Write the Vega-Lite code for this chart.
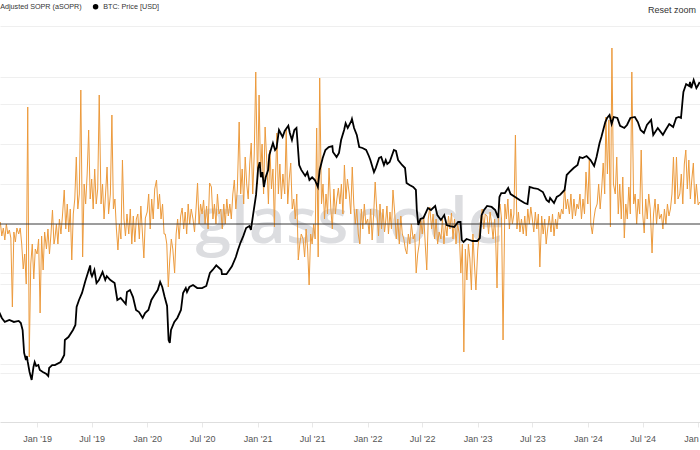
{
"$schema": "https://vega.github.io/schema/vega-lite/v6.json",
"width": 700, "height": 396,
"autosize": {"type": "none"},
"padding": {"top": 26, "left": 0, "right": 0, "bottom": 28},
"background": "white",
"config": {"view": {"stroke": null}, "font": "Liberation Sans",
 "axisX": {"format": "%b '%y", "formatType": "utc", "grid": false, "domainColor": "#dedede", "tickColor": "#e8e8e8", "tickSize": 5, "labelPadding": 7, "labelFontSize": 9, "labelColor": "#555555", "labelFont": "Liberation Sans", "labelFlush": false, "labelOverlap": false}},
"title": {"text": "Reset zoom", "anchor": "end", "frame": "group", "fontSize": 9, "fontWeight": "normal", "color": "#333333", "offset": -12, "dx": -4},
"datasets": {
"asopr": [
{"date":"2018-09-01","v":1.001},{"date":"2018-09-06","v":0.994},{"date":"2018-09-11","v":0.998},{"date":"2018-09-16","v":0.992},{"date":"2018-09-21","v":1.000},{"date":"2018-09-26","v":0.995},
{"date":"2018-10-01","v":0.997},{"date":"2018-10-06","v":0.993},{"date":"2018-10-11","v":0.9585},{"date":"2018-10-16","v":0.996},{"date":"2018-10-21","v":0.991},{"date":"2018-10-26","v":0.998},
{"date":"2018-11-01","v":0.995},{"date":"2018-11-06","v":0.998},{"date":"2018-11-11","v":0.990},{"date":"2018-11-16","v":0.9775},{"date":"2018-11-21","v":0.985},{"date":"2018-11-26","v":0.970},
{"date":"2018-12-01","v":1.0585},{"date":"2018-12-06","v":0.9335},{"date":"2018-12-11","v":0.980},{"date":"2018-12-16","v":0.990},{"date":"2018-12-21","v":0.9725},{"date":"2018-12-26","v":0.9875},
{"date":"2019-01-01","v":0.985},{"date":"2019-01-06","v":0.9925},{"date":"2019-01-11","v":0.9555},{"date":"2019-01-16","v":0.994},{"date":"2019-01-21","v":0.977},{"date":"2019-01-26","v":0.996},
{"date":"2019-02-01","v":0.9875},{"date":"2019-02-06","v":0.9975},{"date":"2019-02-11","v":0.985},{"date":"2019-02-16","v":0.995},{"date":"2019-02-21","v":1.007},{"date":"2019-02-26","v":0.990},
{"date":"2019-03-01","v":0.9925},{"date":"2019-03-06","v":1.000},{"date":"2019-03-11","v":0.990},{"date":"2019-03-16","v":1.0025},{"date":"2019-03-21","v":0.995},{"date":"2019-03-26","v":1.004},
{"date":"2019-04-01","v":1.017},{"date":"2019-04-06","v":0.9975},{"date":"2019-04-11","v":1.010},{"date":"2019-04-16","v":0.996},{"date":"2019-04-21","v":1.0075},{"date":"2019-04-26","v":0.982},
{"date":"2019-05-01","v":1.005},{"date":"2019-05-06","v":1.0125},{"date":"2019-05-11","v":1.0335},{"date":"2019-05-16","v":1.0075},{"date":"2019-05-21","v":1.015},{"date":"2019-05-26","v":1.067},
{"date":"2019-06-01","v":0.9835},{"date":"2019-06-06","v":1.020},{"date":"2019-06-11","v":1.010},{"date":"2019-06-16","v":1.025},{"date":"2019-06-21","v":1.047},{"date":"2019-06-26","v":1.0125},
{"date":"2019-07-01","v":1.0225},{"date":"2019-07-06","v":1.0075},{"date":"2019-07-11","v":1.0275},{"date":"2019-07-16","v":1.010},{"date":"2019-07-21","v":1.0175},{"date":"2019-07-26","v":1.0645},
{"date":"2019-08-01","v":1.010},{"date":"2019-08-06","v":1.020},{"date":"2019-08-11","v":1.0025},{"date":"2019-08-16","v":1.015},{"date":"2019-08-21","v":1.0285},{"date":"2019-08-26","v":1.005},
{"date":"2019-09-01","v":1.015},{"date":"2019-09-06","v":1.0545},{"date":"2019-09-11","v":1.0075},{"date":"2019-09-16","v":1.0125},{"date":"2019-09-21","v":0.9975},{"date":"2019-09-26","v":0.987},
{"date":"2019-10-01","v":1.000},{"date":"2019-10-06","v":0.9925},{"date":"2019-10-11","v":1.032},{"date":"2019-10-16","v":1.0025},{"date":"2019-10-21","v":0.994},{"date":"2019-10-26","v":1.005},
{"date":"2019-11-01","v":0.995},{"date":"2019-11-06","v":1.0075},{"date":"2019-11-11","v":0.990},{"date":"2019-11-16","v":1.004},{"date":"2019-11-21","v":0.991},{"date":"2019-11-26","v":1.0025},
{"date":"2019-12-01","v":1.005},{"date":"2019-12-06","v":0.9925},{"date":"2019-12-11","v":1.009},{"date":"2019-12-16","v":0.996},{"date":"2019-12-21","v":0.983},{"date":"2019-12-26","v":1.003},
{"date":"2020-01-01","v":1.006},{"date":"2020-01-06","v":1.015},{"date":"2020-01-11","v":0.9975},{"date":"2020-01-16","v":1.0125},{"date":"2020-01-21","v":1.0025},{"date":"2020-01-26","v":1.0175},
{"date":"2020-02-01","v":1.022},{"date":"2020-02-06","v":1.0075},{"date":"2020-02-11","v":1.015},{"date":"2020-02-16","v":1.0025},{"date":"2020-02-21","v":1.010},{"date":"2020-02-26","v":0.995},
{"date":"2020-03-01","v":0.995},{"date":"2020-03-06","v":0.990},{"date":"2020-03-11","v":0.9685},{"date":"2020-03-16","v":0.9825},{"date":"2020-03-21","v":0.9925},{"date":"2020-03-26","v":0.9875},
{"date":"2020-04-01","v":0.9755},{"date":"2020-04-06","v":0.995},{"date":"2020-04-11","v":1.0025},{"date":"2020-04-16","v":0.9925},{"date":"2020-04-21","v":1.004},{"date":"2020-04-26","v":1.008},
{"date":"2020-05-01","v":0.9975},{"date":"2020-05-06","v":1.006},{"date":"2020-05-11","v":0.995},{"date":"2020-05-16","v":1.010},{"date":"2020-05-21","v":1.000},{"date":"2020-05-26","v":1.0075},
{"date":"2020-06-01","v":1.0025},{"date":"2020-06-06","v":0.996},{"date":"2020-06-11","v":1.0075},{"date":"2020-06-16","v":1.0205},{"date":"2020-06-21","v":1.000},{"date":"2020-06-26","v":1.010},
{"date":"2020-07-01","v":1.005},{"date":"2020-07-06","v":1.012},{"date":"2020-07-11","v":1.000},{"date":"2020-07-16","v":1.009},{"date":"2020-07-21","v":0.9975},{"date":"2020-07-26","v":1.0205},
{"date":"2020-08-01","v":1.0185},{"date":"2020-08-06","v":1.0025},{"date":"2020-08-11","v":1.010},{"date":"2020-08-16","v":1.000},{"date":"2020-08-21","v":1.015},{"date":"2020-08-26","v":1.005},
{"date":"2020-09-01","v":1.0075},{"date":"2020-09-06","v":0.9975},{"date":"2020-09-11","v":1.010},{"date":"2020-09-16","v":1.000},{"date":"2020-09-21","v":1.0125},{"date":"2020-09-26","v":1.004},
{"date":"2020-10-01","v":1.010},{"date":"2020-10-06","v":1.0025},{"date":"2020-10-11","v":1.015},{"date":"2020-10-16","v":1.022},{"date":"2020-10-21","v":1.0075},{"date":"2020-10-26","v":1.0175},
{"date":"2020-11-01","v":1.051},{"date":"2020-11-06","v":1.015},{"date":"2020-11-11","v":1.0275},{"date":"2020-11-16","v":1.010},{"date":"2020-11-21","v":1.0335},{"date":"2020-11-26","v":1.020},
{"date":"2020-12-01","v":1.0125},{"date":"2020-12-06","v":1.030},{"date":"2020-12-11","v":1.0405},{"date":"2020-12-16","v":1.015},{"date":"2020-12-21","v":1.035},{"date":"2020-12-26","v":1.076},
{"date":"2021-01-01","v":1.020},{"date":"2021-01-06","v":1.0645},{"date":"2021-01-11","v":1.025},{"date":"2021-01-16","v":1.040},{"date":"2021-01-21","v":1.015},{"date":"2021-01-26","v":1.0485},
{"date":"2021-02-01","v":1.030},{"date":"2021-02-06","v":1.010},{"date":"2021-02-11","v":1.037},{"date":"2021-02-16","v":1.0175},{"date":"2021-02-21","v":1.0275},{"date":"2021-02-26","v":0.9985},
{"date":"2021-03-01","v":1.020},{"date":"2021-03-06","v":1.0455},{"date":"2021-03-11","v":1.015},{"date":"2021-03-16","v":1.030},{"date":"2021-03-21","v":1.0125},{"date":"2021-03-26","v":1.025},
{"date":"2021-04-01","v":1.015},{"date":"2021-04-06","v":1.047},{"date":"2021-04-11","v":1.010},{"date":"2021-04-16","v":1.0225},{"date":"2021-04-21","v":1.0305},{"date":"2021-04-26","v":1.0075},
{"date":"2021-05-01","v":1.0125},{"date":"2021-05-06","v":1.0025},{"date":"2021-05-11","v":1.015},{"date":"2021-05-16","v":0.982},{"date":"2021-05-21","v":0.990},{"date":"2021-05-26","v":0.995},
{"date":"2021-06-01","v":0.9925},{"date":"2021-06-06","v":0.9835},{"date":"2021-06-11","v":0.9975},{"date":"2021-06-16","v":0.9875},{"date":"2021-06-21","v":0.9695},{"date":"2021-06-26","v":0.995},
{"date":"2021-07-01","v":0.990},{"date":"2021-07-06","v":1.000},{"date":"2021-07-11","v":0.9925},{"date":"2021-07-16","v":1.048},{"date":"2021-07-21","v":0.9835},{"date":"2021-07-26","v":1.073},
{"date":"2021-08-01","v":1.010},{"date":"2021-08-06","v":1.020},{"date":"2021-08-11","v":1.0025},{"date":"2021-08-16","v":1.015},{"date":"2021-08-21","v":1.005},{"date":"2021-08-26","v":1.028},
{"date":"2021-09-01","v":1.0075},{"date":"2021-09-06","v":0.9975},{"date":"2021-09-11","v":1.0175},{"date":"2021-09-16","v":1.005},{"date":"2021-09-21","v":1.0125},{"date":"2021-09-26","v":1.018},
{"date":"2021-10-01","v":1.010},{"date":"2021-10-06","v":1.020},{"date":"2021-10-11","v":1.005},{"date":"2021-10-16","v":1.0295},{"date":"2021-10-21","v":1.0125},{"date":"2021-10-26","v":1.0225},
{"date":"2021-11-01","v":1.015},{"date":"2021-11-06","v":1.005},{"date":"2021-11-11","v":1.0285},{"date":"2021-11-16","v":1.010},{"date":"2021-11-21","v":1.000},{"date":"2021-11-26","v":1.0075},
{"date":"2021-12-01","v":0.995},{"date":"2021-12-06","v":0.990},{"date":"2021-12-11","v":1.0075},{"date":"2021-12-16","v":0.9975},{"date":"2021-12-21","v":1.010},{"date":"2021-12-26","v":1.000},
{"date":"2022-01-01","v":1.0025},{"date":"2022-01-06","v":0.995},{"date":"2022-01-11","v":1.0075},{"date":"2022-01-16","v":0.992},{"date":"2022-01-21","v":1.005},{"date":"2022-01-26","v":1.021},
{"date":"2022-02-01","v":1.005},{"date":"2022-02-06","v":0.994},{"date":"2022-02-11","v":1.010},{"date":"2022-02-16","v":0.9975},{"date":"2022-02-21","v":1.0075},{"date":"2022-02-26","v":0.996},
{"date":"2022-03-01","v":1.000},{"date":"2022-03-06","v":1.009},{"date":"2022-03-11","v":0.995},{"date":"2022-03-16","v":1.006},{"date":"2022-03-21","v":0.9975},{"date":"2022-03-26","v":1.017},
{"date":"2022-04-01","v":1.005},{"date":"2022-04-06","v":0.9925},{"date":"2022-04-11","v":1.0025},{"date":"2022-04-16","v":0.990},{"date":"2022-04-21","v":1.004},{"date":"2022-04-26","v":0.995},
{"date":"2022-05-01","v":0.9925},{"date":"2022-05-06","v":0.9875},{"date":"2022-05-11","v":0.985},{"date":"2022-05-16","v":0.995},{"date":"2022-05-21","v":0.990},{"date":"2022-05-26","v":1.000},
{"date":"2022-06-01","v":0.9925},{"date":"2022-06-06","v":0.995},{"date":"2022-06-11","v":0.9755},{"date":"2022-06-16","v":0.985},{"date":"2022-06-21","v":0.990},{"date":"2022-06-26","v":1.0025},
{"date":"2022-07-01","v":0.995},{"date":"2022-07-06","v":1.004},{"date":"2022-07-11","v":0.990},{"date":"2022-07-16","v":0.977},{"date":"2022-07-21","v":1.0025},{"date":"2022-07-26","v":1.0085},
{"date":"2022-08-01","v":0.9975},{"date":"2022-08-06","v":1.005},{"date":"2022-08-11","v":0.9925},{"date":"2022-08-16","v":1.0025},{"date":"2022-08-21","v":0.990},{"date":"2022-08-26","v":0.996},
{"date":"2022-09-01","v":0.9925},{"date":"2022-09-06","v":1.0025},{"date":"2022-09-11","v":0.990},{"date":"2022-09-16","v":1.000},{"date":"2022-09-21","v":0.994},{"date":"2022-09-26","v":1.004},
{"date":"2022-10-01","v":0.9975},{"date":"2022-10-06","v":1.0055},{"date":"2022-10-11","v":0.9925},{"date":"2022-10-16","v":1.0025},{"date":"2022-10-21","v":0.990},{"date":"2022-10-26","v":1.000},
{"date":"2022-11-01","v":0.995},{"date":"2022-11-06","v":0.9755},{"date":"2022-11-11","v":0.990},{"date":"2022-11-16","v":0.936},{"date":"2022-11-21","v":0.9875},{"date":"2022-11-26","v":0.972},
{"date":"2022-12-01","v":0.990},{"date":"2022-12-06","v":0.9825},{"date":"2022-12-11","v":0.967},{"date":"2022-12-16","v":0.995},{"date":"2022-12-21","v":0.980},{"date":"2022-12-26","v":0.967},
{"date":"2023-01-01","v":0.987},{"date":"2023-01-06","v":0.995},{"date":"2023-01-11","v":1.0025},{"date":"2023-01-16","v":1.0075},{"date":"2023-01-21","v":0.9975},{"date":"2023-01-26","v":1.005},
{"date":"2023-02-01","v":1.004},{"date":"2023-02-06","v":0.995},{"date":"2023-02-11","v":1.006},{"date":"2023-02-16","v":1.000},{"date":"2023-02-21","v":0.9925},{"date":"2023-02-26","v":1.0025},
{"date":"2023-03-01","v":0.995},{"date":"2023-03-06","v":0.968},{"date":"2023-03-11","v":1.0075},{"date":"2023-03-16","v":1.010},{"date":"2023-03-21","v":1.0025},{"date":"2023-03-26","v":0.942},
{"date":"2023-04-01","v":1.010},{"date":"2023-04-06","v":1.0025},{"date":"2023-04-11","v":1.0125},{"date":"2023-04-16","v":0.9975},{"date":"2023-04-21","v":1.0075},{"date":"2023-04-26","v":1.000},
{"date":"2023-05-01","v":1.005},{"date":"2023-05-06","v":1.0445},{"date":"2023-05-11","v":0.9975},{"date":"2023-05-16","v":1.006},{"date":"2023-05-21","v":0.996},{"date":"2023-05-26","v":1.0025},
{"date":"2023-06-01","v":0.995},{"date":"2023-06-06","v":1.004},{"date":"2023-06-11","v":0.994},{"date":"2023-06-16","v":1.0075},{"date":"2023-06-21","v":1.000},{"date":"2023-06-26","v":1.0085},
{"date":"2023-07-01","v":1.0025},{"date":"2023-07-06","v":0.996},{"date":"2023-07-11","v":1.006},{"date":"2023-07-16","v":0.9975},{"date":"2023-07-21","v":1.005},{"date":"2023-07-26","v":0.9785},
{"date":"2023-08-01","v":1.004},{"date":"2023-08-06","v":0.995},{"date":"2023-08-11","v":1.0025},{"date":"2023-08-16","v":0.990},{"date":"2023-08-21","v":0.9975},{"date":"2023-08-26","v":1.004},
{"date":"2023-09-01","v":0.996},{"date":"2023-09-06","v":1.005},{"date":"2023-09-11","v":0.994},{"date":"2023-09-16","v":1.0025},{"date":"2023-09-21","v":0.9975},{"date":"2023-09-26","v":1.006},
{"date":"2023-10-01","v":1.0025},{"date":"2023-10-06","v":1.0075},{"date":"2023-10-11","v":1.005},{"date":"2023-10-16","v":1.0185},{"date":"2023-10-21","v":1.0075},{"date":"2023-10-26","v":1.0125},
{"date":"2023-11-01","v":1.005},{"date":"2023-11-06","v":1.015},{"date":"2023-11-11","v":1.0025},{"date":"2023-11-16","v":1.0125},{"date":"2023-11-21","v":1.004},{"date":"2023-11-26","v":1.010},
{"date":"2023-12-01","v":1.0075},{"date":"2023-12-06","v":1.015},{"date":"2023-12-11","v":1.0025},{"date":"2023-12-16","v":1.0125},{"date":"2023-12-21","v":1.005},{"date":"2023-12-26","v":1.026},
{"date":"2024-01-01","v":1.010},{"date":"2024-01-06","v":1.032},{"date":"2024-01-11","v":1.000},{"date":"2024-01-16","v":0.995},{"date":"2024-01-21","v":1.0025},{"date":"2024-01-26","v":1.0075},
{"date":"2024-02-01","v":1.010},{"date":"2024-02-06","v":1.020},{"date":"2024-02-11","v":1.0075},{"date":"2024-02-16","v":1.0175},{"date":"2024-02-21","v":1.0305},{"date":"2024-02-26","v":1.015},
{"date":"2024-03-01","v":1.0535},{"date":"2024-03-06","v":1.025},{"date":"2024-03-11","v":1.052},{"date":"2024-03-16","v":0.9985},{"date":"2024-03-21","v":1.088},{"date":"2024-03-26","v":1.020},
{"date":"2024-04-01","v":1.015},{"date":"2024-04-06","v":1.0335},{"date":"2024-04-11","v":1.005},{"date":"2024-04-16","v":1.020},{"date":"2024-04-21","v":1.0025},{"date":"2024-04-26","v":1.0235},
{"date":"2024-05-01","v":0.993},{"date":"2024-05-06","v":1.010},{"date":"2024-05-11","v":1.0025},{"date":"2024-05-16","v":1.0185},{"date":"2024-05-21","v":1.005},{"date":"2024-05-26","v":1.076},
{"date":"2024-06-01","v":1.010},{"date":"2024-06-06","v":1.015},{"date":"2024-06-11","v":1.000},{"date":"2024-06-16","v":1.0125},{"date":"2024-06-21","v":1.005},{"date":"2024-06-26","v":1.037},
{"date":"2024-07-01","v":1.005},{"date":"2024-07-06","v":0.9955},{"date":"2024-07-11","v":1.0125},{"date":"2024-07-16","v":1.0025},{"date":"2024-07-21","v":1.015},{"date":"2024-07-26","v":1.0075},
{"date":"2024-08-01","v":0.9855},{"date":"2024-08-06","v":1.005},{"date":"2024-08-11","v":1.0125},{"date":"2024-08-16","v":1.000},{"date":"2024-08-21","v":1.010},{"date":"2024-08-26","v":1.0025},
{"date":"2024-09-01","v":1.005},{"date":"2024-09-06","v":0.9975},{"date":"2024-09-11","v":1.0075},{"date":"2024-09-16","v":1.000},{"date":"2024-09-21","v":1.010},{"date":"2024-09-26","v":1.004},
{"date":"2024-10-01","v":1.0075},{"date":"2024-10-06","v":1.015},{"date":"2024-10-11","v":1.0335},{"date":"2024-10-16","v":1.010},{"date":"2024-10-21","v":1.0335},{"date":"2024-10-26","v":1.0125},
{"date":"2024-11-01","v":1.015},{"date":"2024-11-06","v":1.025},{"date":"2024-11-11","v":1.010},{"date":"2024-11-16","v":1.030},{"date":"2024-11-21","v":1.037},{"date":"2024-11-26","v":1.0175},
{"date":"2024-12-01","v":1.032},{"date":"2024-12-06","v":1.0125},{"date":"2024-12-11","v":1.0225},{"date":"2024-12-16","v":1.0305},{"date":"2024-12-21","v":1.010},{"date":"2024-12-26","v":1.020},
{"date":"2025-01-01","v":1.0095},{"date":"2025-01-06","v":1.011}
],
"btc": [
{"date":"2018-08-28","p":6900},{"date":"2018-09-06","p":6430},{"date":"2018-09-16","p":6140},{"date":"2018-10-01","p":6280},{"date":"2018-10-16","p":6140},{"date":"2018-11-01","p":6210},{"date":"2018-11-08","p":6060},{"date":"2018-11-14","p":5590},{"date":"2018-11-19","p":4280},{"date":"2018-11-25","p":3945},{"date":"2018-11-28","p":4130},
{"date":"2018-12-01","p":3855},{"date":"2018-12-07","p":3430},{"date":"2018-12-14","p":3126},{"date":"2018-12-20","p":3637},{"date":"2018-12-24","p":3855},{"date":"2018-12-29","p":3680},
{"date":"2019-01-05","p":3720},{"date":"2019-01-10","p":3512},{"date":"2019-01-20","p":3430},{"date":"2019-02-01","p":3350},{"date":"2019-02-07","p":3275},{"date":"2019-02-10","p":3595},{"date":"2019-02-20","p":3720},{"date":"2019-03-01","p":3720},{"date":"2019-03-20","p":3855},
{"date":"2019-04-01","p":4180},{"date":"2019-04-03","p":4978},{"date":"2019-04-15","p":5150},{"date":"2019-04-30","p":5592},{"date":"2019-05-08","p":5930},{"date":"2019-05-12","p":7306},{"date":"2019-05-20","p":7927},{"date":"2019-05-30","p":8600},
{"date":"2019-06-10","p":9890},{"date":"2019-06-18","p":10830},{"date":"2019-06-26","p":11850},{"date":"2019-06-28","p":10830},{"date":"2019-07-02","p":10450},{"date":"2019-07-10","p":11240},{"date":"2019-07-17","p":9650},{"date":"2019-07-25","p":10000},
{"date":"2019-08-06","p":10980},{"date":"2019-08-15","p":10000},{"date":"2019-08-20","p":10450},{"date":"2019-09-01","p":10000},{"date":"2019-09-15","p":9650},{"date":"2019-09-24","p":7927},{"date":"2019-10-05","p":8110},{"date":"2019-10-22","p":7560},{"date":"2019-10-26","p":8700},
{"date":"2019-11-05","p":8904},{"date":"2019-11-15","p":8200},{"date":"2019-11-25","p":7056},{"date":"2019-12-05","p":6890},{"date":"2019-12-17","p":6430},{"date":"2019-12-25","p":6810},
{"date":"2020-01-05","p":7056},{"date":"2020-01-15","p":7927},{"date":"2020-01-25","p":8400},{"date":"2020-02-05","p":8904},{"date":"2020-02-13","p":9770},{"date":"2020-02-20","p":9220},{"date":"2020-02-28","p":8200},
{"date":"2020-03-07","p":7400},{"date":"2020-03-12","p":4978},{"date":"2020-03-16","p":4810},{"date":"2020-03-20","p":5592},{"date":"2020-03-31","p":6140},{"date":"2020-04-10","p":6430},{"date":"2020-04-22","p":7056},{"date":"2020-04-29","p":8600},
{"date":"2020-05-08","p":9110},{"date":"2020-05-12","p":8700},{"date":"2020-05-20","p":9220},{"date":"2020-06-01","p":9440},{"date":"2020-06-15","p":9110},{"date":"2020-07-01","p":9110},{"date":"2020-07-15","p":9330},{"date":"2020-07-27","p":10850},
{"date":"2020-08-05","p":11240},{"date":"2020-08-17","p":11850},{"date":"2020-09-03","p":11240},{"date":"2020-09-05","p":10700},{"date":"2020-09-20","p":10700},{"date":"2020-10-08","p":11720},{"date":"2020-10-21","p":13070},{"date":"2020-10-28","p":14179},
{"date":"2020-11-05","p":15380},{"date":"2020-11-15","p":16700},{"date":"2020-11-24","p":18310},{"date":"2020-12-05","p":18740},{"date":"2020-12-10","p":17890},{"date":"2020-12-17","p":21270},{"date":"2020-12-27","p":26900},
{"date":"2021-01-03","p":36790},{"date":"2021-01-08","p":39400},{"date":"2021-01-12","p":33040},{"date":"2021-01-17","p":35040},{"date":"2021-01-22","p":29500},{"date":"2021-01-28","p":33040},
{"date":"2021-02-05","p":35946},{"date":"2021-02-09","p":42820},{"date":"2021-02-21","p":49200},{"date":"2021-02-28","p":45360},{"date":"2021-03-05","p":46430},{"date":"2021-03-13","p":57240},{"date":"2021-03-25","p":52770},
{"date":"2021-04-01","p":56570},{"date":"2021-04-13","p":60090},{"date":"2021-04-18","p":55250},{"date":"2021-04-25","p":50955},{"date":"2021-05-03","p":57240},{"date":"2021-05-10","p":58600},{"date":"2021-05-13","p":50950},{"date":"2021-05-19","p":38100},{"date":"2021-05-26","p":36000},
{"date":"2021-06-08","p":33570},{"date":"2021-06-15","p":35040},{"date":"2021-06-22","p":32000},{"date":"2021-07-01","p":33040},{"date":"2021-07-10","p":32000},{"date":"2021-07-20","p":29500},{"date":"2021-07-26","p":35946},
{"date":"2021-08-05","p":41330},{"date":"2021-08-14","p":45360},{"date":"2021-08-25","p":46960},{"date":"2021-09-06","p":47500},{"date":"2021-09-08","p":44320},{"date":"2021-09-20","p":41800},{"date":"2021-09-28","p":43800},
{"date":"2021-10-05","p":50955},{"date":"2021-10-15","p":57240},{"date":"2021-10-20","p":61850},{"date":"2021-10-27","p":58600},{"date":"2021-11-08","p":63560},{"date":"2021-11-10","p":65050},{"date":"2021-11-17","p":58600},{"date":"2021-11-26","p":54070},
{"date":"2021-12-04","p":46960},{"date":"2021-12-15","p":46430},{"date":"2021-12-27","p":45360},{"date":"2022-01-05","p":42300},{"date":"2022-01-10","p":40380},{"date":"2022-01-22","p":35040},{"date":"2022-01-28","p":36790},
{"date":"2022-02-08","p":41330},{"date":"2022-02-15","p":41800},{"date":"2022-02-24","p":38100},{"date":"2022-03-02","p":40380},{"date":"2022-03-07","p":38530},{"date":"2022-03-15","p":39440},{"date":"2022-03-29","p":45360},
{"date":"2022-04-05","p":44840},{"date":"2022-04-12","p":40380},{"date":"2022-04-25","p":38100},{"date":"2022-05-05","p":36790},{"date":"2022-05-10","p":30890},{"date":"2022-05-20","p":30180},
{"date":"2022-06-01","p":29500},{"date":"2022-06-10","p":28490},{"date":"2022-06-13","p":22578},{"date":"2022-06-18","p":18960},{"date":"2022-06-25","p":20335},{"date":"2022-07-05","p":20575},{"date":"2022-07-20","p":23110},{"date":"2022-07-30","p":22578},
{"date":"2022-08-13","p":23660},{"date":"2022-08-20","p":21270},{"date":"2022-09-01","p":20100},{"date":"2022-09-12","p":21270},{"date":"2022-09-20","p":18960},{"date":"2022-10-01","p":18740},{"date":"2022-10-15","p":18530},{"date":"2022-10-28","p":19630},
{"date":"2022-11-05","p":19630},{"date":"2022-11-09","p":15927},{"date":"2022-11-15","p":15560},{"date":"2022-11-25","p":16110},{"date":"2022-12-05","p":15927},{"date":"2022-12-15","p":15740},{"date":"2022-12-30","p":15740},
{"date":"2023-01-08","p":16300},{"date":"2023-01-14","p":21270},{"date":"2023-01-22","p":22578},{"date":"2023-02-01","p":23660},{"date":"2023-02-16","p":23390},{"date":"2023-02-28","p":22578},{"date":"2023-03-10","p":20575},{"date":"2023-03-14","p":26270},{"date":"2023-03-20","p":27500},
{"date":"2023-04-01","p":27500},{"date":"2023-04-12","p":29150},{"date":"2023-04-20","p":27180},{"date":"2023-05-05","p":26270},{"date":"2023-05-20","p":25360},{"date":"2023-06-05","p":24480},{"date":"2023-06-15","p":24190},{"date":"2023-06-22","p":29500},
{"date":"2023-07-05","p":29150},{"date":"2023-07-20","p":28820},{"date":"2023-08-05","p":27830},{"date":"2023-08-17","p":25360},{"date":"2023-08-25","p":24770},{"date":"2023-08-29","p":25960},{"date":"2023-09-11","p":24480},{"date":"2023-09-20","p":26270},
{"date":"2023-10-01","p":26900},{"date":"2023-10-16","p":28491},{"date":"2023-10-23","p":33910},{"date":"2023-11-01","p":35040},{"date":"2023-11-15","p":36790},{"date":"2023-11-28","p":38100},{"date":"2023-12-05","p":41800},{"date":"2023-12-15","p":41330},{"date":"2023-12-28","p":42300},
{"date":"2024-01-10","p":40380},{"date":"2024-01-22","p":37660},{"date":"2024-01-30","p":41800},{"date":"2024-02-09","p":49200},{"date":"2024-02-15","p":52770},{"date":"2024-02-28","p":62810},
{"date":"2024-03-05","p":65810},{"date":"2024-03-13","p":68160},{"date":"2024-03-20","p":61350},{"date":"2024-03-27","p":66590},{"date":"2024-04-08","p":65810},{"date":"2024-04-17","p":60090},
{"date":"2024-05-01","p":58600},{"date":"2024-05-10","p":60660},{"date":"2024-05-21","p":65810},{"date":"2024-06-05","p":66590},{"date":"2024-06-15","p":62810},{"date":"2024-06-24","p":57240},
{"date":"2024-07-05","p":55250},{"date":"2024-07-15","p":60660},{"date":"2024-07-29","p":64300},{"date":"2024-08-05","p":54070},{"date":"2024-08-20","p":58600},{"date":"2024-09-06","p":54070},{"date":"2024-09-15","p":57240},{"date":"2024-09-27","p":61350},
{"date":"2024-10-10","p":59300},{"date":"2024-10-20","p":65810},{"date":"2024-10-29","p":66590},{"date":"2024-11-05","p":65810},{"date":"2024-11-11","p":83050},{"date":"2024-11-13","p":89060},{"date":"2024-11-22","p":97660},
{"date":"2024-12-02","p":95370},{"date":"2024-12-05","p":100040},{"date":"2024-12-09","p":93150},{"date":"2024-12-17","p":102390},{"date":"2024-12-26","p":93150},{"date":"2025-01-01","p":96500},{"date":"2025-01-06","p":100040}
]
},
"layer": [
{
"layer": [
{
"data": {"values": [{}]},
"mark": {"type": "text", "text": "glassnode", "font": "Open Sans", "fontSize": 64, "fontWeight": 600, "color": "#dcdde0", "align": "center", "baseline": "alphabetic"},
"encoding": {
"x": {"datum": {"year": 2021, "month": 11, "date": 4, "utc": true}, "type": "temporal", "title": null, "scale": {"type": "utc", "domain": [{"year": 2018, "month": 8, "date": 31, "utc": true}, {"year": 2025, "month": 1, "date": 7, "utc": true}]},
 "axis": {"values": [{"year":2019,"month":1,"date":1,"utc":true},{"year":2019,"month":7,"date":1,"utc":true},{"year":2020,"month":1,"date":1,"utc":true},{"year":2020,"month":7,"date":1,"utc":true},{"year":2021,"month":1,"date":1,"utc":true},{"year":2021,"month":7,"date":1,"utc":true},{"year":2022,"month":1,"date":1,"utc":true},{"year":2022,"month":7,"date":1,"utc":true},{"year":2023,"month":1,"date":1,"utc":true},{"year":2023,"month":7,"date":1,"utc":true},{"year":2024,"month":1,"date":1,"utc":true},{"year":2024,"month":7,"date":1,"utc":true},{"year":2025,"month":1,"date":1,"utc":true}]}},
"y": {"datum": 0.9905, "type": "quantitative", "title": null, "scale": {"domain": [0.901, 1.099]}}
}
},
{
"data": {"name": "asopr"},
"mark": {"type": "line", "strokeWidth": 1, "clip": true, "interpolate": "linear"},
"encoding": {
"x": {"field": "date", "type": "temporal", "title": null,
 "scale": {"type": "utc", "domain": [{"year": 2018, "month": 8, "date": 31, "utc": true}, {"year": 2025, "month": 1, "date": 7, "utc": true}]},
 "axis": {"values": [{"year":2019,"month":1,"date":1,"utc":true},{"year":2019,"month":7,"date":1,"utc":true},{"year":2020,"month":1,"date":1,"utc":true},{"year":2020,"month":7,"date":1,"utc":true},{"year":2021,"month":1,"date":1,"utc":true},{"year":2021,"month":7,"date":1,"utc":true},{"year":2022,"month":1,"date":1,"utc":true},{"year":2022,"month":7,"date":1,"utc":true},{"year":2023,"month":1,"date":1,"utc":true},{"year":2023,"month":7,"date":1,"utc":true},{"year":2024,"month":1,"date":1,"utc":true},{"year":2024,"month":7,"date":1,"utc":true},{"year":2025,"month":1,"date":1,"utc":true}]}},
"y": {"field": "v", "type": "quantitative", "title": null, "scale": {"domain": [0.901, 1.099]},
 "axis": {"values": [0.93, 0.94, 0.95, 0.96, 0.97, 0.98, 0.99, 1.01, 1.02, 1.03, 1.04, 1.05, 1.06, 1.07], "grid": true, "gridColor": "#efefef", "labels": false, "ticks": false, "domain": false, "title": null}},
"color": {"datum": "Adjusted SOPR (aSOPR)", "scale": {"domain": ["Adjusted SOPR (aSOPR)", "BTC: Price [USD]"], "range": ["#ec9a3c", "#000000"]},
 "legend": {"orient": "none", "legendX": -11, "legendY": -23, "direction": "horizontal", "title": null, "symbolType": "circle", "symbolSize": 30, "symbolStrokeWidth": 0, "labelFontSize": 7.2, "labelColor": "#333333", "labelFont": "Liberation Sans", "columnPadding": 10, "labelOffset": 4,
  "encode": {"symbols": {"update": {"fill": {"scale": "color", "field": "value"}, "fillOpacity": {"value": 1}}}}}}
}
},
{
"data": {"values": [{}]},
"mark": {"type": "rule", "color": "#3a3a3a", "strokeWidth": 1},
"encoding": {"y": {"datum": 1, "type": "quantitative", "title": null, "scale": {"domain": [0.901, 1.099]}}}
}
]
},
{
"data": {"name": "btc"},
"mark": {"type": "line", "strokeWidth": 1.8, "clip": true},
"encoding": {
"x": {"field": "date", "type": "temporal", "title": null, "scale": {"type": "utc", "domain": [{"year": 2018, "month": 8, "date": 31, "utc": true}, {"year": 2025, "month": 1, "date": 7, "utc": true}]},
 "axis": {"values": [{"year":2019,"month":1,"date":1,"utc":true},{"year":2019,"month":7,"date":1,"utc":true},{"year":2020,"month":1,"date":1,"utc":true},{"year":2020,"month":7,"date":1,"utc":true},{"year":2021,"month":1,"date":1,"utc":true},{"year":2021,"month":7,"date":1,"utc":true},{"year":2022,"month":1,"date":1,"utc":true},{"year":2022,"month":7,"date":1,"utc":true},{"year":2023,"month":1,"date":1,"utc":true},{"year":2023,"month":7,"date":1,"utc":true},{"year":2024,"month":1,"date":1,"utc":true},{"year":2024,"month":7,"date":1,"utc":true},{"year":2025,"month":1,"date":1,"utc":true}]}},
"y": {"field": "p", "type": "quantitative", "title": null, "scale": {"type": "log", "domain": [1918, 191840]},
 "axis": {"orient": "right", "values": [3392, 10850, 106000, 191000], "grid": true, "gridColor": "#efefef", "labels": false, "ticks": false, "domain": false, "title": null}},
"color": {"datum": "BTC: Price [USD]", "scale": {"domain": ["Adjusted SOPR (aSOPR)", "BTC: Price [USD]"], "range": ["#ec9a3c", "#000000"]}}
}
}
],
"resolve": {"scale": {"y": "independent"}}
}
